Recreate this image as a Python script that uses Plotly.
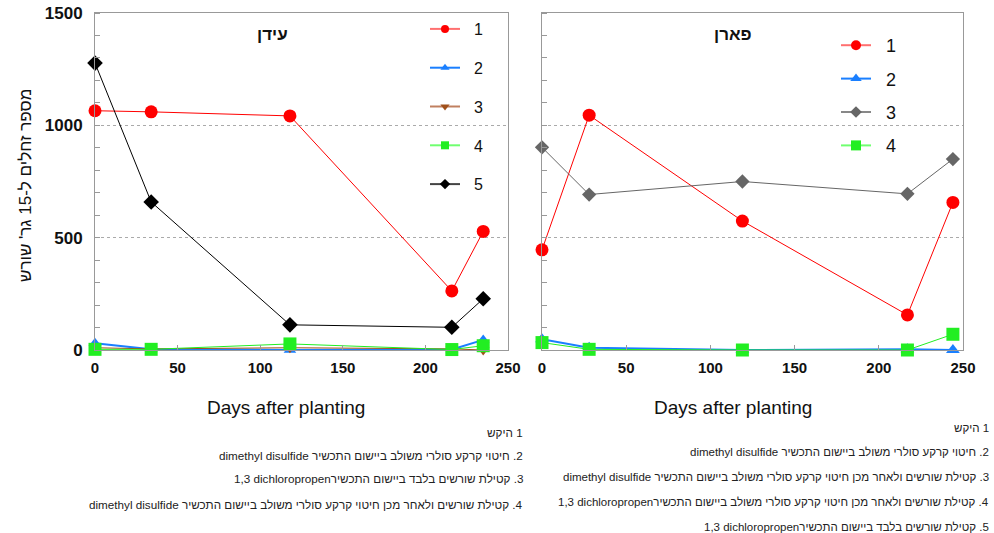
import plotly.graph_objects as go

W, H = 994, 533

# ---------------- data ----------------
days_eden = [0, 34, 118, 216, 235]
eden_1 = [1065, 1060, 1042, 263, 528]
eden_2 = [30, 3, 0, 2, 45]
eden_3 = [10, 5, 10, 5, 0]
eden_4 = [3, 3, 27, 2, 19]
eden_5 = [1277, 659, 112, 101, 228]

days_paran = [0, 28, 119, 217, 244]
paran_1 = [446, 1045, 574, 156, 657]
paran_2 = [48, 10, 0, 3, 0]
paran_3 = [902, 692, 750, 695, 850]
paran_4 = [33, 3, 0, 0, 70]

x_ticks = [0, 50, 100, 150, 200, 250]
y_ticks = [0, 500, 1000, 1500]

title_eden = "עידן"
title_paran = "פארן"
y_title = "מספר זחלים ל-15 גר' שורש"
x_title = "Days after planting"

RLE, LRE, PDF = "\u202b", "\u202a", "\u202c"
notes_eden = [
    ("1 היקש", ""),
    ("2. חיטוי קרקע סולרי משולב ביישום התכשיר ", "dimethyl disulfide"),
    ("3. קטילת שורשים בלבד ביישום התכשיר", "1,3 dichloropropen"),
    ("4. קטילת שורשים ולאחר מכן חיטוי קרקע סולרי משולב ביישום התכשיר ", "dimethyl disulfide"),
]
notes_paran = [
    ("1 היקש", ""),
    ("2. חיטוי קרקע סולרי משולב ביישום התכשיר ", "dimethyl disulfide"),
    ("3. קטילת שורשים ולאחר מכן חיטוי קרקע סולרי משולב ביישום התכשיר ", "dimethyl disulfide"),
    ("4. קטילת שורשים ולאחר מכן חיטוי קרקע סולרי משולב ביישום התכשיר", "1,3 dichloropropen"),
    ("5. קטילת שורשים בלבד ביישום התכשיר", "1,3 dichloropropen"),
]

FONT = "Liberation Sans, Arial, sans-serif"

def px(x):
    return x / W

def py(y):
    return 1 - y / H

fig = go.Figure()

eden_series = [
    ("1", eden_1, "#ff0000", "#ff7070", "circle", 13, 8, 1),
    ("2", eden_2, "#1a7fff", "#1a7fff", "triangle-up", 11, 8, 2),
    ("3", eden_3, "#a0501a", "#c08060", "triangle-down", 11, 8, 1),
    ("4", eden_4, "#22ee22", "#70ff70", "square", 13, 8, 1),
    ("5", eden_5, "#000000", "#444444", "diamond", 12, 8, 1),
]
paran_series = [
    ("1", paran_1, "#ff0000", "#ff7070", "circle", 13, 10, 1),
    ("2", paran_2, "#1a7fff", "#1a7fff", "triangle-up", 12, 10, 2),
    ("3", paran_3, "#666666", "#888888", "diamond", 11, 9, 1),
    ("4", paran_4, "#22ee22", "#70ff70", "square", 13, 10, 1),
]

for name, vals, col, lcol, sym, size, lsize, lw in eden_series:
    fig.add_trace(go.Scatter(
        x=days_eden, y=vals, mode="lines+markers", xaxis="x", yaxis="y",
        line=dict(color=col, width=lw), marker=dict(symbol=sym, size=size, color=col),
        showlegend=False, cliponaxis=False))
for name, vals, col, lcol, sym, size, lsize, lw in paran_series:
    fig.add_trace(go.Scatter(
        x=days_paran, y=vals, mode="lines+markers", xaxis="x2", yaxis="y2",
        line=dict(color=col, width=lw), marker=dict(symbol=sym, size=size, color=col),
        showlegend=False, cliponaxis=False))

# legend entries
for name, vals, col, lcol, sym, size, lsize, lw in eden_series:
    fig.add_trace(go.Scatter(
        x=[None], y=[None], mode="lines+markers", xaxis="x", yaxis="y",
        name="\u00a0\u00a0" + name, legend="legend", legendgroup="e" + name,
        line=dict(color=lcol, width=2), marker=dict(symbol=sym, size=lsize, color=col)))
for name, vals, col, lcol, sym, size, lsize, lw in paran_series:
    fig.add_trace(go.Scatter(
        x=[None], y=[None], mode="lines+markers", xaxis="x2", yaxis="y2",
        name="\u00a0\u00a0" + name, legend="legend2", legendgroup="p" + name,
        line=dict(color=lcol, width=2), marker=dict(symbol=sym, size=lsize, color=col)))

frame = "#999999"

def xaxis(dom):
    return dict(domain=dom, range=[0, 250], tickvals=x_ticks,
                tickfont=dict(family=FONT, size=15, color="#111", weight="bold"),
                ticks="inside", ticklen=5, tickcolor=frame,
                showline=True, mirror=True, linecolor=frame, linewidth=1,
                showgrid=False, zeroline=False, ticklabelstandoff=4)

def yaxis(anchor, labels):
    return dict(domain=[py(350), py(13)], range=[0, 1500], tickvals=y_ticks,
                anchor=anchor, showticklabels=labels,
                tickfont=dict(family=FONT, size=17, color="#111", weight="bold"),
                ticks="", showline=True, mirror=True, linecolor=frame, linewidth=1,
                showgrid=True, gridcolor="#aaaaaa", griddash="dot", gridwidth=1,
                zeroline=False, ticklabelstandoff=8,
                minor=dict(dtick=100, ticks="inside", ticklen=5, tickcolor=frame, showgrid=False))

fig.update_layout(
    width=W, height=H, margin=dict(l=0, r=0, t=0, b=0, autoexpand=False),
    paper_bgcolor="white", plot_bgcolor="white",
    font=dict(family=FONT, color="#111"),
    xaxis=xaxis([px(95), px(508)]),
    yaxis=yaxis("x", True),
    xaxis2=dict(xaxis([px(542), px(963)]), anchor="y2"),
    yaxis2=yaxis("x2", False),
    legend=dict(x=px(425), y=py(12), xanchor="left", yanchor="top",
                font=dict(family=FONT, size=16, color="#111"),
                bgcolor="rgba(0,0,0,0)", tracegroupgap=15, itemclick=False),
    legend2=dict(x=px(836), y=py(27), xanchor="left", yanchor="top",
                 font=dict(family=FONT, size=18, color="#111"),
                 bgcolor="rgba(0,0,0,0)", tracegroupgap=7, itemclick=False),
)

def A(text, x, y, size, xanchor="center", color="#111", angle=0):
    return dict(text=text, x=px(x), y=py(y), xref="paper", yref="paper",
                xanchor=xanchor, yanchor="middle", textangle=angle, showarrow=False,
                font=dict(family=FONT, size=size, color=color))

ann = [
    A("<b>" + title_eden + "</b>", 272, 34, 17),
    A("<b>" + title_paran + "</b>", 733, 34, 17),
    A(RLE + y_title + PDF, 25, 186, 17, angle=-90),
    A(x_title, 286, 407, 19),
    A(x_title, 733, 407, 19),
]

def note_text(heb, eng):
    if eng:
        return RLE + heb + LRE + eng + PDF + PDF
    return RLE + heb + PDF

for (heb, eng), yy in zip(notes_eden, [432, 455, 478, 504]):
    ann.append(A(note_text(heb, eng), 525, yy, 11.7, xanchor="right", color="#222"))
for (heb, eng), yy in zip(notes_paran, [428, 452, 477, 502, 527]):
    ann.append(A(note_text(heb, eng), 991, yy, 11.5, xanchor="right", color="#222"))
fig.update_layout(annotations=ann)

fig.write_html("out.html")
